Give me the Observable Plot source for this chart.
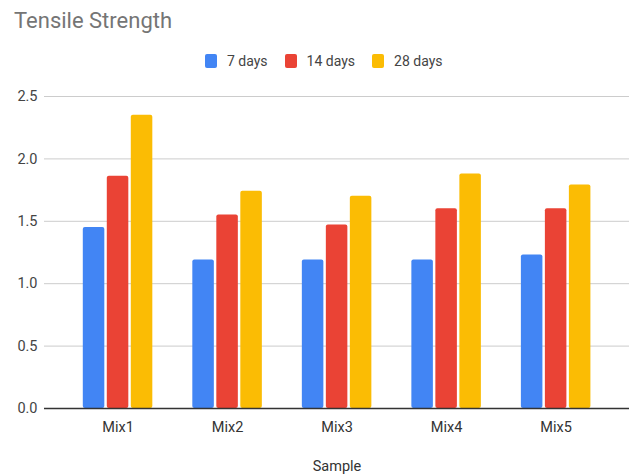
<!DOCTYPE html>
<html><head><meta charset="utf-8">
<script src="https://cdn.jsdelivr.net/npm/d3@7"></script>
<script src="https://cdn.jsdelivr.net/npm/@observablehq/plot@0.6"></script>
<style>
body{margin:0;background:#fff;font-family:Roboto,sans-serif;width:634px;height:476px;overflow:hidden}
#title{height:40px;box-sizing:border-box;padding:9.5px 0 0 14px;font-size:22px;line-height:1;color:#757575;white-space:nowrap}
#legend{height:42px;display:flex;align-items:center;padding-left:205px;font-size:14px;color:#444;white-space:nowrap}
.sw{width:12px;height:14px;border-radius:2px;margin-right:10px;display:inline-block}
.item{display:flex;align-items:center;margin-right:17px}
#chart svg{display:block}
</style>
</head><body>
<div id="title">Tensile Strength</div>
<div id="legend"></div>
<div id="chart"></div>
<script>
const mixes = ["Mix1", "Mix2", "Mix3", "Mix4", "Mix5"];
const days7 = [1.45, 1.19, 1.19, 1.19, 1.23];
const days14 = [1.86, 1.55, 1.47, 1.60, 1.60];
const days28 = [2.35, 1.74, 1.70, 1.88, 1.79];
const seriesNames = ["7 days", "14 days", "28 days"];
const seriesColors = ["#4285F4", "#EA4335", "#FBBC04"];
const yTicks = [0, 0.5, 1.0, 1.5, 2.0, 2.5];

const seriesValues = [days7, days14, days28];
const rows = [];
seriesNames.forEach((s, si) => mixes.forEach((m, mi) => rows.push({mix: m, series: s, value: seriesValues[si][mi]})));

// legend
const leg = document.getElementById("legend");
seriesNames.forEach((s, i) => {
  const it = document.createElement("span");
  it.className = "item";
  const sw = document.createElement("span");
  sw.className = "sw";
  sw.style.background = seriesColors[i];
  it.appendChild(sw);
  it.appendChild(document.createTextNode(s));
  leg.appendChild(it);
});

const offsets = [-24, 0, 24];
const barMarks = seriesNames.map((s, i) => Plot.barY(rows.filter(r => r.series === s), {
  x: "mix", y: "value", fill: "series", dx: offsets[i], insetLeft: 44, insetRight: 44, rx: 2
}));

const chart = Plot.plot({
  width: 634,
  height: 394,
  marginTop: 14,
  marginBottom: 68,
  marginLeft: 44,
  marginRight: 5,
  style: {fontFamily: "Roboto, sans-serif", fontSize: "14.5px", color: "#444", background: "#fff"},
  x: {type: "band", domain: mixes, range: [62.8, 610.4], padding: 0, round: false},
  y: {domain: [0, 2.5]},
  color: {domain: seriesNames, range: seriesColors},
  marks: [
    Plot.ruleY(yTicks.filter(d => d > 0), {stroke: "#cccccc", strokeWidth: 1}),
    ...barMarks,
    Plot.ruleY([0], {stroke: "#333333", strokeWidth: 1.3}),
    Plot.axisY({ticks: yTicks, tickSize: 0, tickPadding: 7, tickFormat: d3.format(".1f"), label: null}),
    Plot.axisX({tickSize: 0, tickPadding: 13, label: "Sample", labelAnchor: "center", labelOffset: 62, fill: "#333"})
  ]
});
document.getElementById("chart").appendChild(chart);
</script>
</body></html>
